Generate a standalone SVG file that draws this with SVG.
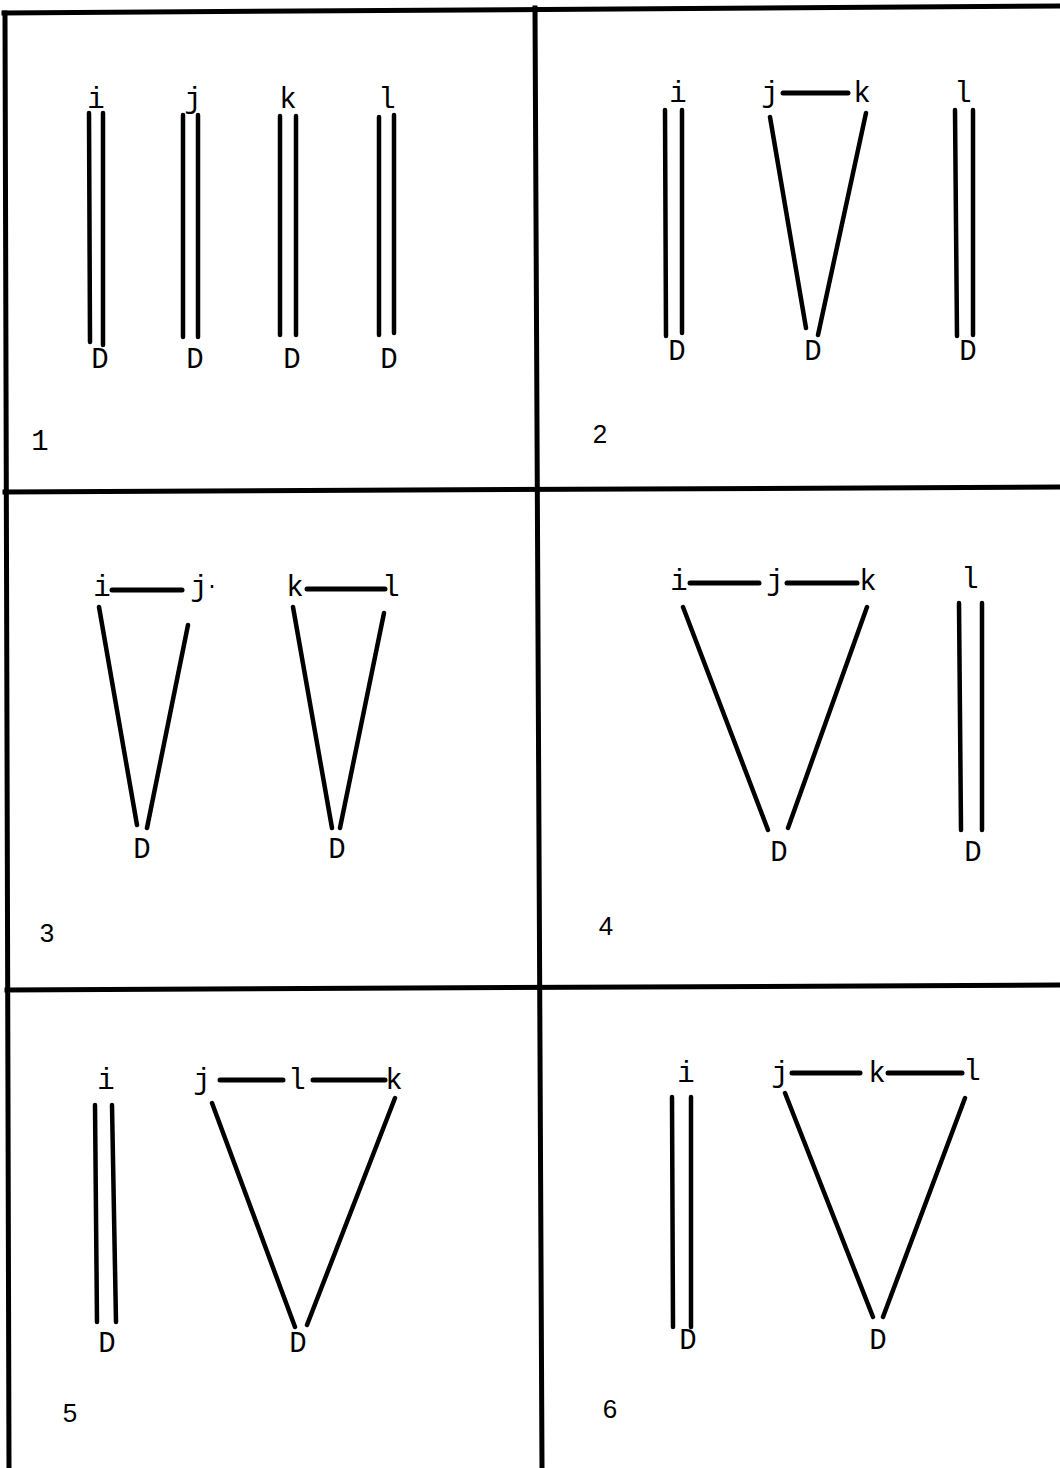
<svg xmlns="http://www.w3.org/2000/svg" width="1060" height="1468" viewBox="0 0 1060 1468">
<style>
.bg{fill:#ffffff}
.frame{stroke:#000;stroke-width:5;fill:none;stroke-linecap:square}
.ln{stroke:#000;stroke-width:4.5;fill:none;stroke-linecap:round}
.hz{stroke:#000;stroke-width:5;fill:none;stroke-linecap:round}
.lb{font-family:"Liberation Mono","DejaVu Sans Mono",monospace;font-size:29px;fill:#000;text-anchor:middle}
.num{font-family:"Liberation Sans",Arial,sans-serif;font-size:26px;fill:#000;text-anchor:middle}
.num1{font-family:"Liberation Mono","DejaVu Sans Mono",monospace;font-size:29px;fill:#000;text-anchor:middle}
</style>
<rect class="bg" x="0" y="0" width="1060" height="1468"/>
<g id="frame">
<line class="frame" x1="4" y1="13" x2="1060" y2="6"/>
<line class="frame" x1="5" y1="13" x2="9" y2="1468"/>
<line class="frame" x1="535" y1="8" x2="542" y2="1468"/>
<line class="frame" x1="5" y1="492" x2="1060" y2="487"/>
<line class="frame" x1="7" y1="990" x2="1060" y2="985"/>
</g>
<g id="panel-numbers">
<text class="num1" x="40" y="450">1</text>
<text class="num" x="600" y="443">2</text>
<text class="num" x="47" y="942">3</text>
<text class="num" x="606" y="935">4</text>
<text class="num" x="70" y="1422">5</text>
<text class="num" x="610" y="1418">6</text>
</g>
<g id="connectors">
<line class="ln" x1="89" y1="113" x2="90" y2="342"/>
<line class="ln" x1="103" y1="113" x2="103" y2="345"/>
<line class="ln" x1="183" y1="115" x2="183" y2="337"/>
<line class="ln" x1="198" y1="115" x2="198" y2="337"/>
<line class="ln" x1="280" y1="116" x2="280" y2="335"/>
<line class="ln" x1="296" y1="116" x2="296" y2="335"/>
<line class="ln" x1="379" y1="117" x2="379" y2="335"/>
<line class="ln" x1="394" y1="115" x2="394" y2="333"/>
<line class="ln" x1="665" y1="110" x2="666" y2="336"/>
<line class="ln" x1="682" y1="110" x2="682" y2="333"/>
<line class="hz" x1="783" y1="93" x2="848" y2="93"/>
<line class="ln" x1="770" y1="117" x2="806" y2="328"/>
<line class="ln" x1="866" y1="113" x2="818" y2="335"/>
<line class="ln" x1="955" y1="110" x2="957" y2="336"/>
<line class="ln" x1="973" y1="110" x2="973" y2="335"/>
<line class="hz" x1="112" y1="590" x2="182" y2="590"/>
<line class="hz" x1="307" y1="589" x2="385" y2="589"/>
<line class="ln" x1="99" y1="607" x2="137" y2="825"/>
<line class="ln" x1="188" y1="625" x2="147" y2="828"/>
<line class="ln" x1="293" y1="607" x2="332" y2="828"/>
<line class="ln" x1="384" y1="613" x2="340" y2="828"/>
<line class="hz" x1="690" y1="583" x2="759" y2="583"/>
<line class="hz" x1="787" y1="583" x2="857" y2="583"/>
<line class="ln" x1="683" y1="607" x2="768" y2="830"/>
<line class="ln" x1="867" y1="607" x2="788" y2="828"/>
<line class="ln" x1="959" y1="603" x2="961" y2="830"/>
<line class="ln" x1="982" y1="603" x2="982" y2="830"/>
<line class="ln" x1="95" y1="1105" x2="97" y2="1322"/>
<line class="ln" x1="112" y1="1105" x2="116" y2="1322"/>
<line class="hz" x1="220" y1="1080" x2="283" y2="1080"/>
<line class="hz" x1="313" y1="1080" x2="385" y2="1080"/>
<line class="ln" x1="212" y1="1103" x2="295" y2="1327"/>
<line class="ln" x1="395" y1="1098" x2="307" y2="1325"/>
<line class="ln" x1="672" y1="1097" x2="673" y2="1327"/>
<line class="ln" x1="691" y1="1097" x2="691" y2="1327"/>
<line class="hz" x1="792" y1="1073" x2="860" y2="1073"/>
<line class="hz" x1="888" y1="1073" x2="962" y2="1073"/>
<line class="ln" x1="785" y1="1093" x2="873" y2="1317"/>
<line class="ln" x1="965" y1="1098" x2="883" y2="1317"/>
</g>
<g id="p1-i"><text class="lb" x="96" y="108">i</text></g>
<g id="p1-j"><text class="lb" x="193" y="108">j</text></g>
<g id="p1-k"><text class="lb" x="288" y="108">k</text></g>
<g id="p1-l"><text class="lb" x="387" y="108">l</text></g>
<g id="p1-D1"><text class="lb" x="100" y="368">D</text></g>
<g id="p1-D2"><text class="lb" x="195" y="368">D</text></g>
<g id="p1-D3"><text class="lb" x="292" y="368">D</text></g>
<g id="p1-D4"><text class="lb" x="389" y="368">D</text></g>
<g id="p2-i"><text class="lb" x="678" y="102">i</text></g>
<g id="p2-j"><text class="lb" x="770" y="102">j</text></g>
<g id="p2-k"><text class="lb" x="862" y="102">k</text></g>
<g id="p2-l"><text class="lb" x="963" y="102">l</text></g>
<g id="p2-D1"><text class="lb" x="677" y="360">D</text></g>
<g id="p2-D2"><text class="lb" x="813" y="360">D</text></g>
<g id="p2-D3"><text class="lb" x="968" y="360">D</text></g>
<g id="p3-i"><text class="lb" x="102" y="596">i</text></g>
<g id="p3-j"><text class="lb" x="199" y="596">j</text><text class="lb" x="212" y="592" style="font-size:20px">·</text></g>
<g id="p3-k"><text class="lb" x="295" y="596">k</text></g>
<g id="p3-l"><text class="lb" x="391" y="596">l</text></g>
<g id="p3-D1"><text class="lb" x="142" y="858">D</text></g>
<g id="p3-D2"><text class="lb" x="337" y="858">D</text></g>
<g id="p4-i"><text class="lb" x="679" y="590">i</text></g>
<g id="p4-j"><text class="lb" x="775" y="590">j</text></g>
<g id="p4-k"><text class="lb" x="868" y="590">k</text></g>
<g id="p4-l"><text class="lb" x="970" y="588">l</text></g>
<g id="p4-D1"><text class="lb" x="779" y="861">D</text></g>
<g id="p4-D2"><text class="lb" x="973" y="861">D</text></g>
<g id="p5-i"><text class="lb" x="106" y="1089">i</text></g>
<g id="p5-j"><text class="lb" x="202" y="1089">j</text></g>
<g id="p5-l"><text class="lb" x="297" y="1089">l</text></g>
<g id="p5-k"><text class="lb" x="394" y="1089">k</text></g>
<g id="p5-D1"><text class="lb" x="107" y="1352">D</text></g>
<g id="p5-D2"><text class="lb" x="298" y="1352">D</text></g>
<g id="p6-i"><text class="lb" x="686" y="1082">i</text></g>
<g id="p6-j"><text class="lb" x="780" y="1082">j</text></g>
<g id="p6-k"><text class="lb" x="877" y="1082">k</text></g>
<g id="p6-l"><text class="lb" x="972" y="1080">l</text></g>
<g id="p6-D1"><text class="lb" x="688" y="1349">D</text></g>
<g id="p6-D2"><text class="lb" x="878" y="1349">D</text></g>
</svg>
